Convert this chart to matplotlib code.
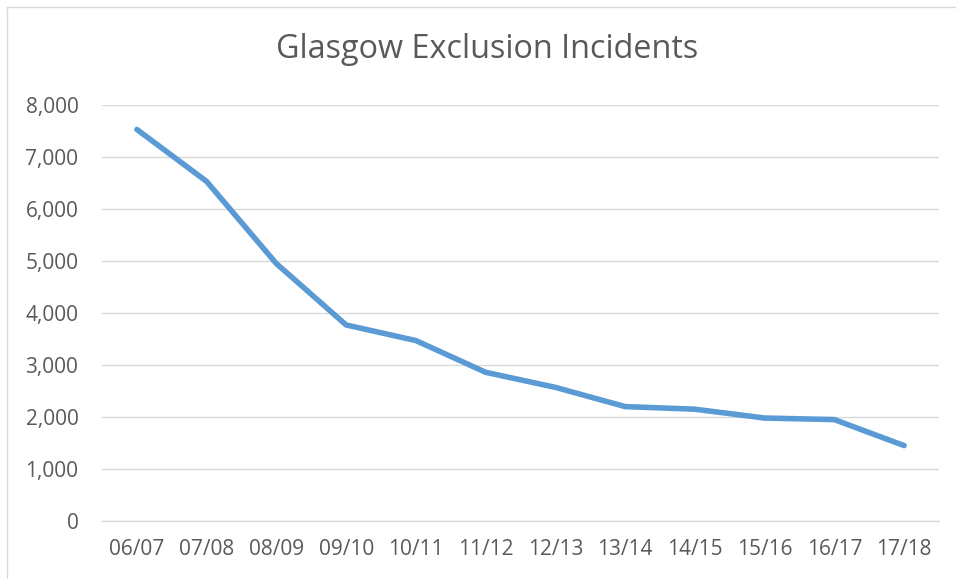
import matplotlib
matplotlib.use("Agg")
import matplotlib.pyplot as plt
from matplotlib.lines import Line2D
from matplotlib.ticker import FuncFormatter

years = ["06/07", "07/08", "08/09", "09/10", "10/11", "11/12",
         "12/13", "13/14", "14/15", "15/16", "16/17", "17/18"]
incidents = [7530, 6530, 4950, 3770, 3470, 2860, 2570, 2200, 2150, 1980, 1950, 1450]
yticks = [0, 1000, 2000, 3000, 4000, 5000, 6000, 7000, 8000]
title = "Glasgow Exclusion Incidents"

plt.rcParams['font.family'] = ['Open Sans', 'DejaVu Sans']

W, H = 956, 579
fig = plt.figure(figsize=(W / 100, H / 100), dpi=100)
ax = fig.add_axes([102 / W, 1 - 521 / H, (939 - 102) / W, (521 - 105) / H])

x = list(range(len(years)))
ax.plot(x, incidents, color="#5B9BD5", linewidth=4, solid_capstyle="round",
        solid_joinstyle="round", zorder=3)

ax.set_xlim(-0.5, len(years) - 0.5)
ax.set_ylim(0, 8000)
ax.set_yticks(yticks)
ax.yaxis.set_major_formatter(FuncFormatter(lambda v, p: f"{int(v):,}"))
ax.set_xticks(x)
ax.set_xticklabels(years)
ax.grid(axis="y", color="#D9D9D9", linewidth=1.0)
ax.set_axisbelow(True)
for s in ["top", "right", "left"]:
    ax.spines[s].set_visible(False)
ax.spines["bottom"].set_color("#D9D9D9")
ax.spines["bottom"].set_linewidth(1.0)
ax.tick_params(axis="both", length=0, labelsize=15, colors="#595959")
ax.tick_params(axis="x", pad=13)
ax.tick_params(axis="y", pad=17)

fig.text(487 / W, 1 - 49 / H, title, ha="center", va="center",
         fontsize=23.3, color="#595959", fontweight="normal")

# chart border (left and top edges visible in the crop)
fig.add_artist(Line2D([6.5 / W, 6.5 / W], [0, 1 - 6.5 / H], transform=fig.transFigure,
                      color="#D9D9D9", linewidth=1))
fig.add_artist(Line2D([6.5 / W, 1], [1 - 6.5 / H, 1 - 6.5 / H], transform=fig.transFigure,
                      color="#D9D9D9", linewidth=1))

fig.savefig("out.png", dpi=100)
